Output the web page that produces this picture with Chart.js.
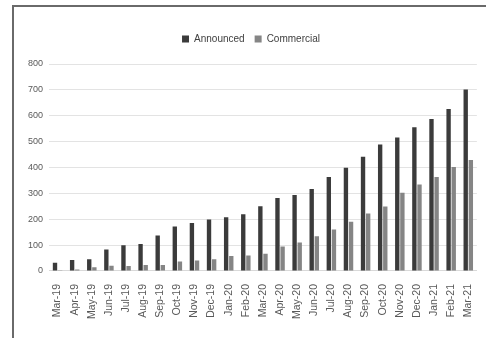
<!DOCTYPE html>
<html><head><meta charset="utf-8">
<script src="https://cdn.jsdelivr.net/npm/chart.js@4/dist/chart.umd.min.js"></script>
<style>
html,body{margin:0;padding:0;background:#fff;width:486px;height:338px;overflow:hidden}
#frame{position:absolute;left:12px;top:5px;width:480px;height:340px;border-left:2px solid #6a6a6a;border-top:2px solid #6a6a6a}
#wrap{position:absolute;left:0;top:0;width:486px;height:338px}
</style></head><body>
<div id="frame"></div>
<div id="wrap"><canvas id="c" width="486" height="338"></canvas></div>
<script>
const categories = ["Mar-19","Apr-19","May-19","Jun-19","Jul-19","Aug-19","Sep-19","Oct-19","Nov-19","Dec-19","Jan-20","Feb-20","Mar-20","Apr-20","May-20","Jun-20","Jul-20","Aug-20","Sep-20","Oct-20","Nov-20","Dec-20","Jan-21","Feb-21","Mar-21"];
const announced = [32,42,45,83,99,104,137,172,185,199,208,219,250,282,294,317,363,399,442,489,516,556,587,626,701];
const commercial = [3,6,14,20,19,23,23,37,41,45,58,60,67,95,110,134,160,190,222,249,302,334,363,402,429];
const yTicks = [0,100,200,300,400,500,600,700,800];

const legendGap = {
  id:'legendGap',
  beforeInit(chart){
    const lg = chart.legend; const orig = lg.fit;
    lg.fit = function(){ orig.call(this); this.height += 10; };
  }
};

new Chart(document.getElementById('c'), {
  type: 'bar',
  data: {
    labels: categories,
    datasets: [
      {label:'Announced', data: announced, backgroundColor:'#3b3b3b', barPercentage:0.85, categoryPercentage:0.6},
      {label:'Commercial', data: commercial, backgroundColor:'#858585', barPercentage:0.85, categoryPercentage:0.6}
    ]
  },
  plugins:[legendGap],
  options: {
    responsive:false, animation:false, devicePixelRatio:1,
    layout:{padding:{left:22,right:6,top:24,bottom:14}},
    plugins:{
      legend:{position:'top', labels:{boxWidth:7, boxHeight:7, font:{family:'Liberation Sans', size:10}, color:'#404040', padding:10}},
      tooltip:{enabled:false}
    },
    scales:{
      x:{grid:{display:false}, border:{display:true,color:'#d9d9d9'},
         ticks:{maxRotation:90,minRotation:90,autoSkip:false,font:{family:'Liberation Sans',size:10.5},color:'#595959',padding:5}},
      y:{min:0,max:800, afterBuildTicks:(a)=>{a.ticks=yTicks.map(v=>({value:v}));},
         grid:{color:'#e3e3e3',drawTicks:false}, border:{display:false},
         ticks:{font:{family:'Liberation Sans',size:9},color:'#595959',padding:6}}
    }
  }
});
</script>
</body></html>
